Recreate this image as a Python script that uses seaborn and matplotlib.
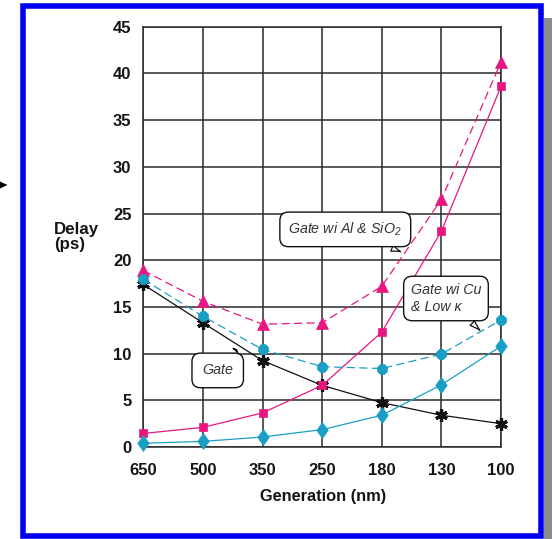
import numpy as np
import pandas as pd
import matplotlib
matplotlib.use("Agg")
import matplotlib.pyplot as plt
from matplotlib.patches import Rectangle, Polygon
import seaborn as sns

# ---------------- data ----------------
generations = ["650", "500", "350", "250", "180", "130", "100"]
gate = [17.4, 13.3, 9.25, 6.6, 4.75, 3.4, 2.5]
gate_al_sio2 = [18.9, 15.6, 13.15, 13.3, 17.2, 26.5, 41.2]
al_sio2_wire = [1.45, 2.1, 3.65, 6.6, 12.3, 23.1, 38.6]
gate_cu_lowk = [17.95, 14.0, 10.45, 8.6, 8.4, 9.95, 13.6]
cu_lowk_wire = [0.4, 0.6, 1.07, 1.86, 3.4, 6.65, 10.8]
y_ticks = [0, 5, 10, 15, 20, 25, 30, 35, 40, 45]

x_label = "Generation (nm)"
y_label = "Delay\n(ps)"
label_al = "Gate wi Al & SiO$_2$"
label_cu = "Gate wi Cu\n& Low κ"
label_gate = "Gate"

# ---------------- style ----------------
sns.set_style("white")
plt.rcParams["font.family"] = ["Liberation Sans", "DejaVu Sans"]
plt.rcParams["mathtext.fontset"] = "custom"
plt.rcParams["mathtext.rm"] = "Liberation Sans:italic"
plt.rcParams["mathtext.it"] = "Liberation Sans:italic"

PINK = "#e8177f"
CYAN = "#1a9fc4"
BLACK = "#111111"
GRID = "#2a2a2a"
TXT = "#151515"

# tall diamond marker shape (style only)
TALL_DIAMOND = [(0, 1), (0.72, 0), (0, -1), (-0.72, 0), (0, 1)]

W, H = 552, 539
fig = plt.figure(figsize=(W / 100, H / 100), dpi=100)
fig.patch.set_facecolor("white")

ax_l, ax_r, ax_t, ax_b = 143.3, 501.0, 26.7, 447.0
ax = fig.add_axes([ax_l / W, (H - ax_b) / H, (ax_r - ax_l) / W, (ax_b - ax_t) / H])

pos = list(range(len(generations)))

series = [
    (gate, BLACK, "-", (6, 2, 0), 9.0, 2.3),
    (gate_al_sio2, PINK, (0, (6.5, 3.5)), "^", 8.0, 0.5),
    (al_sio2_wire, PINK, "-", "s", 6.4, 0.5),
    (gate_cu_lowk, CYAN, (0, (6.5, 3.5)), "8", 8.0, 0.5),
    (cu_lowk_wire, CYAN, "-", TALL_DIAMOND, 11.5, 0.5),
]

for vals, col, ls, mk, ms, mew in series:
    df = pd.DataFrame({"pos": pos, "delay": vals})
    sns.lineplot(data=df, x="pos", y="delay", ax=ax, color=col,
                 linestyle=ls, linewidth=0.9, marker=mk, markersize=ms,
                 markerfacecolor=col, markeredgecolor=col,
                 markeredgewidth=mew, clip_on=False, zorder=3)

ax.set_xlim(0, len(generations) - 1)
ax.set_ylim(0, 45)
ax.set_xticks(pos)
ax.set_xticklabels(generations)
ax.set_yticks(y_ticks)
ax.set_yticklabels([str(v) for v in y_ticks])
ax.set_xlabel("")
ax.set_ylabel("")
ax.set_axisbelow(True)
ax.grid(True, color=GRID, linewidth=1.1)
for s in ax.spines.values():
    s.set_visible(True)
    s.set_color(GRID)
    s.set_linewidth(1.1)
ax.tick_params(axis="both", direction="out", length=4.5, width=1.1,
               color=GRID, labelcolor=TXT, labelsize=12)
ax.tick_params(axis="y", pad=4)
ax.tick_params(axis="x", pad=7)
for lab in ax.get_xticklabels() + ax.get_yticklabels():
    lab.set_fontweight("bold")

fig.text(323 / W, (H - 497) / H, x_label, ha="center", va="center",
         fontsize=11.8, fontweight="bold", color=TXT)
fig.text(54 / W, (H - 237) / H, y_label, ha="left", va="center",
         fontsize=12.2, fontweight="bold", color=TXT, linespacing=0.95)

# ---------------- callouts ----------------
def callout(text, xytext, xy, pad):
    ax.annotate(text, xy=xy, xytext=xytext, textcoords="data", xycoords="data",
                ha="center", va="center", multialignment="left",
                fontsize=10.3, fontstyle="italic", color="#333333",
                bbox=dict(boxstyle=f"round,pad={pad},rounding_size=0.6",
                          fc="white", ec="#111111", lw=1.0),
                arrowprops=dict(arrowstyle="wedge,tail_width=0.45,shrink_factor=0.4",
                                fc="white", ec="#111111", lw=0.9),
                zorder=5, annotation_clip=False)

callout(label_al, (3.388, 23.3), (4.36, 20.8), 0.6)
callout(label_cu, (5.077, 15.9), (5.68, 12.3), 0.5)
callout(label_gate, (1.248, 8.2), (1.594, 10.67), 0.72)

# ---------------- frame decorations ----------------
fig.patches.append(Rectangle((544 / W, 0), 8 / W, (H - 18) / H,
                             transform=fig.transFigure, fc="#8c8c8c",
                             ec="none", zorder=0))
fig.patches.append(Rectangle((22.7 / W, 2.6 / H), (541.2 - 22.7) / W,
                             (H - 5.5 - 2.6) / H, transform=fig.transFigure,
                             fc="none", ec="#0000f2", lw=4.0, zorder=10))
fig.patches.append(Polygon([(0, (H - 181.5) / H), (0, (H - 188.5) / H),
                            (7.5 / W, (H - 185) / H)], closed=True,
                           transform=fig.transFigure, fc="black", ec="none"))

fig.savefig("out.png", dpi=100)
